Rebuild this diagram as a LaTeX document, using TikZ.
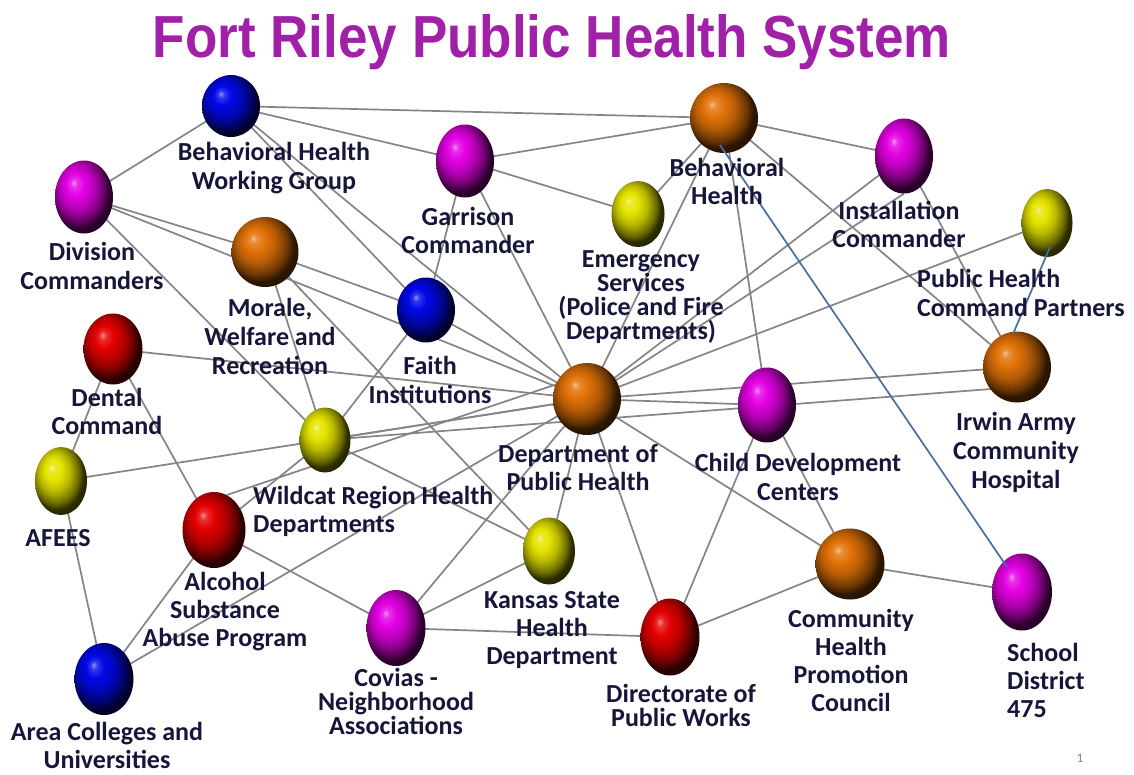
\documentclass[tikz,border=0pt]{standalone}
\usepackage{fontspec}
\usepackage{graphicx}
\setmainfont{Carlito}
\newfontfamily\titlefont{Liberation Sans}
\usetikzlibrary{shapes.geometric,backgrounds,calc}
\definecolor{edgegray}{HTML}{858585}
\definecolor{bluelink}{HTML}{4A6E9E}
\definecolor{titlecol}{HTML}{A020A8}
\definecolor{lblcol}{HTML}{16163A}
\definecolor{cMag}{HTML}{E400E4}
\definecolor{cBlue}{HTML}{0008E8}
\definecolor{cOr}{HTML}{E27208}
\definecolor{cYel}{HTML}{E4E400}
\definecolor{cRed}{HTML}{E40000}
\newcommand\defball[2]{\pgfdeclareradialshading{#1}{\pgfpoint{-9bp}{10bp}}{color(0bp)=(white!55!#2); color(3bp)=(#2!82!white); color(8bp)=(#2); color(15bp)=(#2!80!black); color(22bp)=(#2!47!black); color(26bp)=(#2!20!black); color(50bp)=(black)}}
\defball{ballmag}{cMag}
\defball{ballblue}{cBlue}
\defball{ballor}{cOr}
\defball{ballyel}{cYel}
\defball{ballred}{cRed}
\begin{document}
\begin{tikzpicture}[x=1pt,y=-1pt,
  ball/.style={ellipse, inner sep=0pt, draw=none},
  mag/.style={ball, shading=ballmag},
  blu/.style={ball, shading=ballblue},
  ora/.style={ball, shading=ballor},
  yel/.style={ball, shading=ballyel},
  red/.style={ball, shading=ballred},
  edge/.style={draw=edgegray, line width=1.7pt},
  blink/.style={draw=bluelink, line width=1.7pt},
  lbl/.style={text=lblcol, inner sep=0pt, align=center, font=\bfseries\fontsize{26}{29}\selectfont},
  lbltight/.style={lbl, font=\bfseries\fontsize{26}{24}\selectfont},
  lblmid/.style={lbl, font=\bfseries\fontsize{26}{28}\selectfont},
]
\useasboundingbox (0,0) rectangle (1134,774);

% balls
\node[blu, minimum width=58pt, minimum height=62pt] (bhwg) at (231,106) {};
\node[mag, minimum width=58pt, minimum height=73pt] (div) at (84,197) {};
\node[mag, minimum width=58pt, minimum height=73pt] (gar) at (465,161) {};
\node[ora, minimum width=68pt, minimum height=70pt] (bh) at (724,118) {};
\node[yel, minimum width=53pt, minimum height=66pt] (emer) at (638,214) {};
\node[mag, minimum width=58pt, minimum height=75pt] (inst) at (904,156) {};
\node[yel, minimum width=51pt, minimum height=68pt] (phcp) at (1047,223) {};
\node[ora, minimum width=67pt, minimum height=70pt] (mwr) at (265,252) {};
\node[blu, minimum width=58pt, minimum height=65pt] (faith) at (426,310) {};
\node[red, minimum width=59pt, minimum height=71pt] (dental) at (113,349) {};
\node[ora, minimum width=68pt, minimum height=72pt] (dph) at (587,399) {};
\node[mag, minimum width=58pt, minimum height=75pt] (cdc) at (767,405) {};
\node[ora, minimum width=68pt, minimum height=71pt] (iach) at (1017,367) {};
\node[yel, minimum width=51pt, minimum height=65pt] (wild) at (325,440) {};
\node[yel, minimum width=52pt, minimum height=68pt] (afees) at (61,481) {};
\node[red, minimum width=63pt, minimum height=76pt] (alc) at (214,530) {};
\node[yel, minimum width=52pt, minimum height=67pt] (kshd) at (549,551) {};
\node[blu, minimum width=59pt, minimum height=72pt] (area) at (104,679) {};
\node[mag, minimum width=59pt, minimum height=76pt] (covias) at (396,628) {};
\node[red, minimum width=59pt, minimum height=77pt] (dpw) at (670,637) {};
\node[ora, minimum width=69pt, minimum height=71pt] (chpc) at (850,564) {};
\node[mag, minimum width=60pt, minimum height=77pt] (school) at (1022,592) {};

\begin{pgfonlayer}{background}
\fill[white] (0,0) rectangle (1134,774);
\draw[edge] (bhwg.center) -- (div.center);
\draw[edge] (bhwg.center) -- (bh.center);
\draw[edge] (bhwg.center) -- (gar.center);
\draw[edge] (bhwg.center) -- (dph.center);
\draw[edge] (bhwg.center) -- (faith.center);
\draw[edge] (div.center) -- (mwr.center);
\draw[edge] (div.center) -- (dph.center);
\draw[edge] (div.center) -- (wild.center);
\draw[edge] (gar.center) -- (bh.center);
\draw[edge] (gar.center) -- (emer.center);
\draw[edge] (gar.center) -- (faith.center);
\draw[edge] (gar.center) -- (dph.center);
\draw[edge] (bh.center) -- (emer.center);
\draw[edge] (bh.center) -- (dph.center);
\draw[edge] (bh.center) -- (cdc.center);
\draw[edge] (bh.center) -- (inst.center);
\draw[edge] (bh.center) -- (iach.center);
\draw[edge] (inst.center) -- (dph.center);
\draw[edge] (inst.south) -- (dph.center);
\draw[edge] (inst.center) -- (iach.center);
\draw[edge] (phcp.center) -- (dph.center);
\draw[edge] (mwr.center) -- (faith.center);
\draw[edge] (mwr.center) -- (wild.center);
\draw[edge] (mwr.center) -- (kshd.center);
\draw[edge] (faith.center) -- (dph.center);
\draw[edge] (faith.center) -- (wild.center);
\draw[edge] (dental.center) -- (dph.center);
\draw[edge] (dental.center) -- (afees.center);
\draw[edge] (dental.center) -- (alc.center);
\draw[edge] (afees.center) -- (dph.center);
\draw[edge] (afees.center) -- (area.center);
\draw[edge] (wild.center) -- (dph.center);
\draw[edge] (wild.center) -- ($(iach.center)+(0,20)$);
\draw[edge] (wild.center) -- (kshd.center);
\draw[edge] (wild.center) -- (alc.center);
\draw[edge] (alc.70) -- ($(dph.center)+(0,-25)$);
\draw[edge] (alc.center) -- (covias.center);
\draw[edge] (alc.center) -- (area.center);
\draw[edge] (area.center) -- (dph.center);
\draw[edge] (covias.center) -- (dph.center);
\draw[edge] (covias.center) -- (kshd.center);
\draw[edge] (covias.center) -- (dpw.center);
\draw[edge] (kshd.center) -- (dph.center);
\draw[edge] (dpw.center) -- (dph.center);
\draw[edge] (dpw.center) -- (cdc.center);
\draw[edge] (dpw.center) -- (chpc.center);
\draw[edge] (chpc.center) -- (cdc.center);
\draw[edge] (chpc.center) -- (dph.center);
\draw[edge] (chpc.center) -- (school.center);
\draw[edge] (dph.center) -- (cdc.center);
\draw[edge] (dph.center) -- (iach.center);
\end{pgfonlayer}

% blue connectors on top
\draw[blink] ($(bh.center)+(-4,27)$) -- ($(school.center)+(-15,-25)$);
\draw[blink] ($(phcp.center)+(3,24)$) -- ($(iach.center)+(-4,-33)$);

% title
\node[anchor=base, text=titlecol, inner sep=0pt, font=\titlefont\bfseries\fontsize{53}{60}\selectfont] (title) at (552,57) {\scalebox{1}[1.12]{Fort Riley Public Health System}};

% labels
\node[lbl] (lbhwg) at (274,168) {Behavioral Health\\Working Group};
\node[lbl] (ldiv) at (92,266) {Division\\Commanders};
\node[lblmid] (lgar) at (468,230) {Garrison\\Commander};
\node[lblmid] (lbh) at (727,181) {Behavioral\\Health};
\node[lbltight] (lemer) at (641,297) {Emergency\\Services\\(Police and Fire\\Departments)};
\node[lblmid] (linst) at (899,224) {Installation\\Commander};
\node[lbl, align=left, anchor=west] (lphcp) at (917,293) {Public Health\\Command Partners};
\node[lbl] (lmwr) at (270,336) {Morale,\\Welfare and\\Recreation};
\node[lbl] (lfaith) at (430,380) {Faith\\Institutions};
\node[lblmid] (ldental) at (107,411) {Dental\\Command};
\node[lblmid] (ldph) at (578,468) {Department of\\Public Health};
\node[lbl] (lcdc) at (798,477) {Child Development\\Centers};
\node[lbl] (liach) at (1016,452) {Irwin Army\\Community\\Hospital};
\node[lblmid, align=left, anchor=west] (lwild) at (253,511) {Wildcat Region Health\\Departments};
\node[lbl] (lafees) at (58,538) {AFEES};
\node[lblmid] (lalc) at (225,612) {Alcohol\\Substance\\Abuse Program};
\node[lblmid] (lkshd) at (552,630) {Kansas State\\Health\\Department};
\node[lbltight] (lcovias) at (396,701) {Covias -\\Neighborhood\\Associations};
\node[lbltight] (ldpw) at (681,705) {Directorate of\\Public Works};
\node[lblmid] (lchpc) at (851,660) {Community\\Health\\Promotion\\Council};
\node[lblmid, align=left, anchor=west] (lschool) at (1007,680) {School\\District\\475};
\node[lblmid] (larea) at (107,745) {Area Colleges and\\Universities};
\node[text=gray, inner sep=0pt, font=\fontsize{13}{15}\selectfont] (pnum) at (1080,758) {1};
\end{tikzpicture}
\end{document}
